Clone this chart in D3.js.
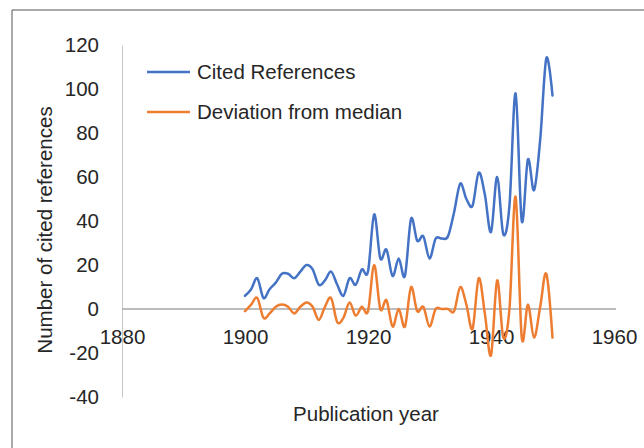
<!DOCTYPE html>
<html><head><meta charset="utf-8">
<script src="https://cdn.jsdelivr.net/npm/d3@7"></script>
<style>body{margin:0;background:#fff}svg{display:block}text{font-family:"Liberation Sans",Arial,sans-serif;fill:#262626}</style>
</head><body>
<svg id="c" width="644" height="448"></svg>
<script>
const years = d3.range(1900, 1951);
const citedReferences = [6, 9, 14, 5, 9, 12, 16, 16, 14, 17,
  20, 18, 11, 13, 17, 11, 6, 14, 11, 18,
  17, 43, 23, 27, 15, 23, 15, 41, 31, 33,
  23, 32, 32, 33, 44, 57, 50, 47, 62, 52,
  35, 60, 34, 47, 98, 40, 68, 54, 77, 114, 97];
const deviationFromMedian = [-1, 2, 5, -4, -2, 1, 2, 1, -2, 1,
  3, 1, -5, 1, 5, -6, -4, 3, -3, 1,
  -1, 20, 0, 4, -8, 0, -8, 10, -1, 1,
  -8, 0, 0, 0, -1, 10, 2, -9, 14, -2,
  -21, 13, -13, 0, 51, -13, 2, -13, 1, 16, -13];
const xTicks = [1880, 1900, 1920, 1940, 1960];
const yTicks = [-40, -20, 0, 20, 40, 60, 80, 100, 120];
const seriesNames = ["Cited References", "Deviation from median"];
const colors = ["#4472C4", "#ED7D31"];
const FS = "20.5px";

const svg = d3.select("#c");
const x = d3.scaleLinear().domain([1880, 1960]).range([122, 614]);
const y = d3.scaleLinear().domain([-40, 120]).range([397, 45]);

// frame
svg.append("line").attr("x1", 12).attr("x2", 644).attr("y1", 10).attr("y2", 10).attr("stroke", "#8c8c8c").attr("stroke-width", 1.5);
svg.append("line").attr("x1", 12).attr("x2", 12).attr("y1", 10).attr("y2", 448).attr("stroke", "#555").attr("stroke-width", 1);

// y axis
const yAxis = d3.axisLeft(y).tickValues(yTicks).tickSize(0).tickPadding(23).tickFormat(d => String(d));
const gy = svg.append("g").attr("transform", `translate(${x(1880)},0)`).call(yAxis);
gy.select(".domain").attr("stroke", "#c8c8c8").attr("stroke-width", 1);
gy.selectAll("text").style("font-size", FS).attr("fill", "#262626");

// x axis at zero
const xAxis = d3.axisBottom(x).tickValues(xTicks).tickSize(0).tickPadding(20).tickFormat(d => String(d));
const gx = svg.append("g").attr("transform", `translate(0,${y(0)})`).call(xAxis);
gx.select(".domain").attr("stroke", "#a6a6a6").attr("stroke-width", 1.5).attr("d", `M${x(1880)},0H${x(1960)+2}`);
gx.selectAll("text").style("font-size", FS).attr("fill", "#262626");

// lines
const line = d3.line().x((d, i) => x(years[i])).y(d => y(d)).curve(d3.curveCardinal.tension(0));
[citedReferences, deviationFromMedian].forEach((s, k) => {
  svg.append("path").datum(s).attr("d", line).attr("fill", "none")
    .attr("stroke", colors[k]).attr("stroke-width", 2.5).attr("stroke-linejoin", "round").attr("stroke-linecap", "round");
});

// legend
seriesNames.forEach((n, k) => {
  const ly = 72 + k * 40;
  svg.append("line").attr("x1", 147).attr("x2", 190).attr("y1", ly).attr("y2", ly).attr("stroke", colors[k]).attr("stroke-width", 2.5);
  svg.append("text").attr("x", 197).attr("y", ly + 7).style("font-size", FS).text(n);
});

// axis titles
svg.append("text").attr("x", (x(1880) + x(1960)) / 2 - 2).attr("y", 421).attr("text-anchor", "middle").style("font-size", FS).text("Publication year");
svg.append("text").attr("transform", "translate(52,230) rotate(-90)").attr("text-anchor", "middle").style("font-size", FS).text("Number of cited references");
</script>
</body></html>
